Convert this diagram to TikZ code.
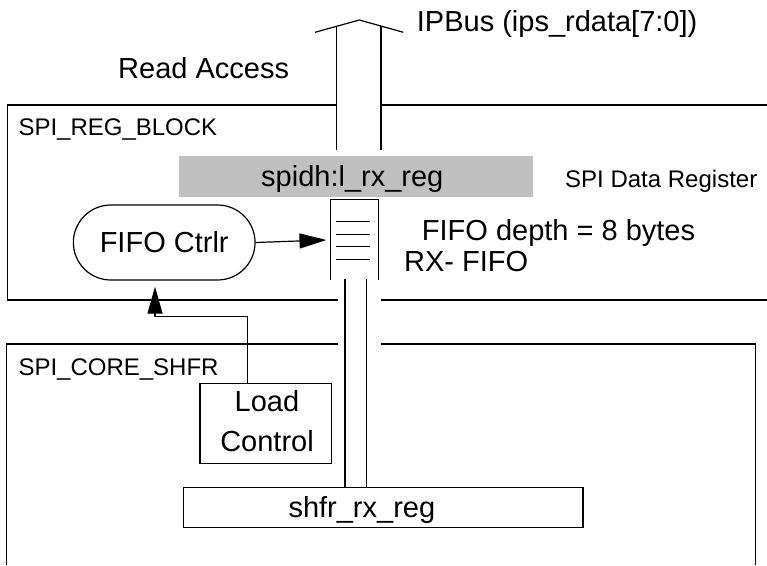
\documentclass[tikz,border=0pt]{standalone}
\usepackage{fontspec}
\setmainfont{Liberation Sans}
\usetikzlibrary{arrows.meta}
\definecolor{reggray}{RGB}{192,192,192}
\tikzset{
  ln/.style={line width=1.2pt, line cap=butt},
  big/.style={font=\fontsize{29pt}{31pt}\selectfont, inner sep=0pt},
  small/.style={font=\fontsize{24pt}{26pt}\selectfont, inner sep=0pt},
  arr/.style={ln, -{Triangle[length=27pt,width=15pt]}},
  boxnode/.style={draw, ln, inner sep=0pt},
}
\begin{document}
\begin{tikzpicture}[x=1pt,y=-1pt]
\useasboundingbox (0,0) rectangle (767,565);

% SPI_REG_BLOCK outline (open right side)
\draw[ln] (336.7,105) -- (7.3,105) -- (7.3,300) -- (338.3,300);
\draw[ln] (381,105) -- (767,105);
\draw[ln] (381,300) -- (767,300);
\node[small, anchor=base west] (regblk) at (18.3,135) {SPI\_REG\_BLOCK};

% SPI_CORE_SHFR outline
\draw[ln] (338.3,344) -- (6.7,344) -- (6.7,565);
\draw[ln] (381,344) -- (755.7,344) -- (755.7,565);
\node[small, anchor=base west] (coreblk) at (18.3,375) {SPI\_CORE\_SHFR};

% IPBus wide arrow
\coordinate (busL) at (336.7,150);
\coordinate (busR) at (381,150);
\draw[ln, line join=miter] (315,32.3) -- (359.3,20) -- (403.3,32.3);
\draw[ln] (busL) -- (336.7,26.3);
\draw[ln] (busR) -- (381,26.3);
\node[big, anchor=base west] (ipbus) at (416.7,31.7) {IPBus (ips\_rdata[7:0])};
\node[big, anchor=base west] (read) at (118,78.5) {Read Access};

% data register
\fill[reggray] (179,156) rectangle (532.7,196.7);
\node[big, anchor=base west] (dreg) at (261,186.7) {spidh:l\_rx\_reg};
\node[small, anchor=base west] (dreglbl) at (565,187.3) {SPI Data Register};

% FIFO
\node[minimum width=47.6pt, minimum height=80pt, inner sep=0pt] (fifo) at (354.5,240) {};
\draw[ln] (fifo.south west) -- (fifo.north west) -- (fifo.north east) -- (fifo.south east);
\foreach \yy in {221.7,234.2,246.7,259.2}
  \draw[ln] (335.7,\yy) -- (370,\yy);
\node[big, anchor=base west] (fdepth) at (421.7,240.7) {FIFO depth = 8 bytes};
\node[big, anchor=base west] (rxfifo) at (404,271) {RX- FIFO};

% FIFO Ctrlr
\node[draw, ln, rounded corners=37.5pt, minimum width=181.7pt, minimum height=75pt,
      big] (ctrl) at (164.2,242.5) {FIFO Ctrlr};
\draw[arr] (ctrl.east) -- ([xshift=-4pt]fifo.west);

% Load Control
\node[boxnode, minimum width=131.7pt, minimum height=80pt] (load) at (265.8,423.3) {};
\node[big, anchor=base] (loadt) at (267,411.7) {Load};
\node[big, anchor=base] (ctrlt) at (267,451.7) {Control};
\coordinate (lctop) at (247.7,383.3);
\coordinate (lctip) at (155,286.7);
\draw[arr] (lctop) |- (155,316.7) -- (lctip);

% shfr_rx_reg
\node[boxnode, minimum width=399.7pt, minimum height=39.6pt] (shfr) at (383.2,507.5) {};
\node[big, anchor=base west] (shfrt) at (288.3,517.3) {shfr\_rx\_reg};

% lower bus
\coordinate (lbL) at (345,279);
\coordinate (lbR) at (366.7,279);
\draw[ln] (lbL) -- (lbL |- shfr.north);
\draw[ln] (lbR) -- (lbR |- shfr.north);
\end{tikzpicture}
\end{document}
